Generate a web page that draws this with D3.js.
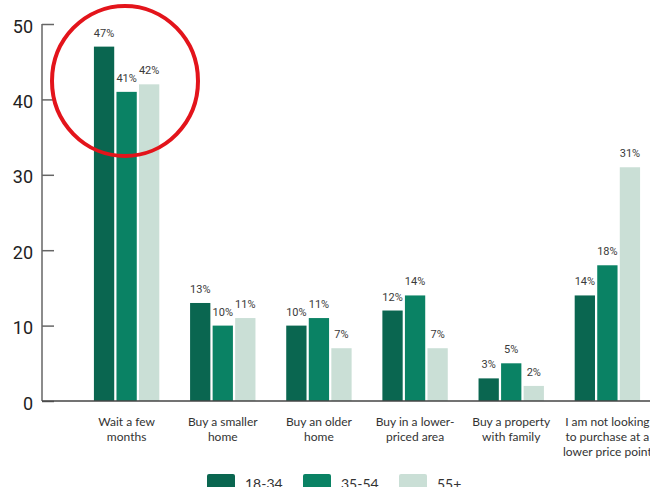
<!DOCTYPE html>
<html>
<head>
<meta charset="utf-8">
<script src="https://cdn.jsdelivr.net/npm/d3@7"></script>
<style>
  html, body { margin: 0; padding: 0; background: #fff; }
  svg { display: block; }
</style>
</head>
<body>
<svg id="chart" width="650" height="487"></svg>
<script>
const categories = [
  ["Wait a few", "months"],
  ["Buy a smaller", "home"],
  ["Buy an older", "home"],
  ["Buy in a lower-", "priced area"],
  ["Buy a property", "with family"],
  ["I am not looking", "to purchase at a", "lower price point"]
];
const seriesNames = ["18-34", "35-54", "55+"];
const values18_34 = [47, 13, 10, 12, 3, 14];
const values35_54 = [41, 10, 11, 14, 5, 18];
const values55plus = [42, 11, 7, 7, 2, 31];
const yTicks = [0, 10, 20, 30, 40, 50];
const colors = ["#0a6650", "#0a8264", "#cadfd6"];

const seriesValues = [values18_34, values35_54, values55plus];
const catKeys = categories.map(c => c.join(" "));

const svg = d3.select("#chart");
const axisX = 42;
const y = d3.scaleLinear().domain([0, 50]).range([401, 24]);
const x0 = d3.scaleBand().domain(catKeys).range([axisX, 692]).paddingInner(0.32).paddingOuter(0.54);
const x1 = d3.scaleBand().domain(seriesNames).range([0, x0.bandwidth()]).paddingInner(0.1).paddingOuter(0);

// bars
const groups = svg.append("g").selectAll("g")
  .data(catKeys)
  .join("g")
  .attr("transform", d => `translate(${x0(d)},0)`);

groups.selectAll("rect")
  .data((d, i) => seriesNames.map((s, j) => ({ s, v: seriesValues[j][i], j })))
  .join("rect")
  .attr("x", d => x1(d.s))
  .attr("y", d => y(d.v))
  .attr("width", x1.bandwidth())
  .attr("height", d => y(0) - y(d.v))
  .attr("fill", d => colors[d.j]);

groups.selectAll("text.val")
  .data((d, i) => seriesNames.map((s, j) => ({ s, v: seriesValues[j][i], j })))
  .join("text")
  .attr("class", "val")
  .attr("x", d => x1(d.s) + x1.bandwidth() / 2)
  .attr("y", d => y(d.v) - 10)
  .attr("text-anchor", "middle")
  .attr("font-family", "Roboto, sans-serif")
  .attr("font-size", 11)
  .attr("fill", "#3a3a3a")
  .text(d => d.v + "%");

// y axis
const yAxis = d3.axisLeft(y).tickValues(yTicks).tickSize(-12).tickPadding(9);
const gy = svg.append("g").attr("transform", `translate(${axisX},0)`).call(yAxis);
gy.select(".domain").attr("stroke", "#666").attr("stroke-width", 1.5).attr("d", `M0,${y(50)}V${y(0)}`);
gy.selectAll(".tick line").attr("stroke", "#666").attr("stroke-width", 1.5);
gy.selectAll(".tick text")
  .attr("font-family", "Roboto, sans-serif")
  .attr("font-size", 18)
  .attr("fill", "#222")
  .attr("dy", "0.45em");

// baseline
svg.append("line")
  .attr("x1", axisX).attr("x2", 650)
  .attr("y1", y(0)).attr("y2", y(0))
  .attr("stroke", "#444").attr("stroke-width", 1.5);

// category labels
const labels = svg.append("g").selectAll("text")
  .data(categories)
  .join("text")
  .attr("x", (d, i) => x0(catKeys[i]) + x0.bandwidth() / 2)
  .attr("y", 426)
  .attr("text-anchor", "middle")
  .attr("font-family", "Lato, sans-serif")
  .attr("font-size", 12)
  .attr("fill", "#333");
labels.selectAll("tspan")
  .data(d => d)
  .join("tspan")
  .attr("x", function () { return d3.select(this.parentNode).attr("x"); })
  .attr("dy", (d, i) => i === 0 ? 0 : 15)
  .text(d => d);

// legend
const legend = svg.append("g").selectAll("g")
  .data(seriesNames)
  .join("g")
  .attr("transform", (d, i) => `translate(${207 + i * 96},474)`);
legend.append("rect")
  .attr("width", 28).attr("height", 20).attr("rx", 2)
  .attr("fill", (d, i) => colors[i]);
legend.append("text")
  .attr("x", 38).attr("y", 15)
  .attr("font-family", "Lato, sans-serif")
  .attr("font-size", 14)
  .attr("fill", "#333")
  .text(d => d);

// highlight circle
svg.append("ellipse")
  .attr("cx", 125).attr("cy", 81)
  .attr("rx", 73).attr("ry", 75)
  .attr("fill", "none")
  .attr("stroke", "#e3141b")
  .attr("stroke-width", 4);
</script>
</body>
</html>
